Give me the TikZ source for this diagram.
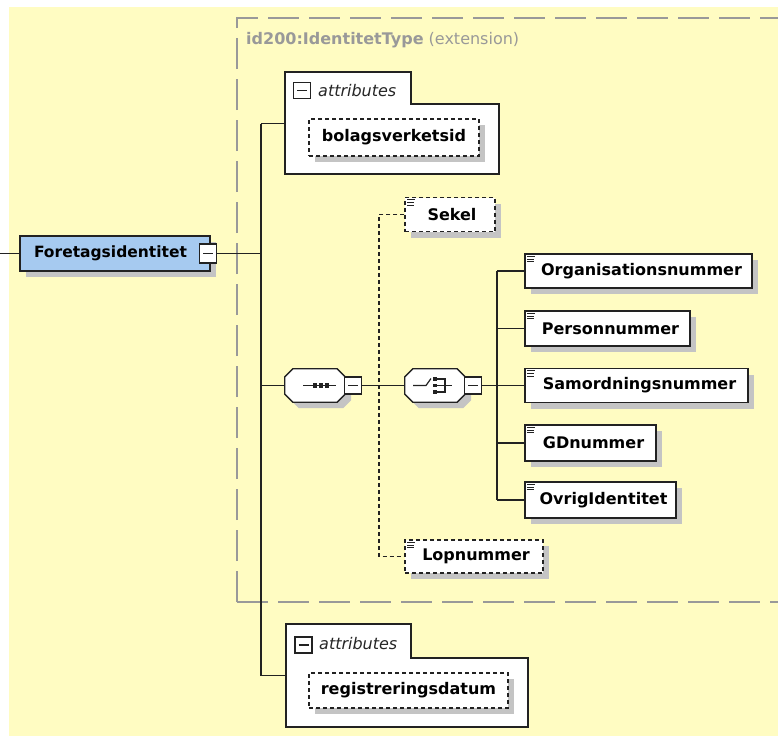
\documentclass[tikz,border=0pt]{standalone}
\usepackage{fontspec}
\setmainfont{DejaVu Sans}
\usetikzlibrary{shadows}
\definecolor{bgyellow}{HTML}{FFFCC2}
\definecolor{nodeblue}{HTML}{A6CAF0}
\definecolor{shadowgray}{HTML}{C4C4C4}
\definecolor{framegray}{HTML}{999999}
\definecolor{linecol}{HTML}{222222}
\newcommand\txticon[1]{%
  \draw[line width=0.9pt, linecol] ([xshift=3pt,yshift=-3pt]#1.north west) -- ++(8,0)
    ([xshift=3pt,yshift=-5.7pt]#1.north west) -- ++(7,0)
    ([xshift=3pt,yshift=-8.4pt]#1.north west) -- ++(7,0);}
\newcommand\octaoutline[1]{%
  \draw[shad, draw=linecol, fill=white, line width=1.3pt]
    ([xshift=8pt]#1.north west) -- ([xshift=-8pt]#1.north east) -- ([yshift=-8pt]#1.north east)
    -- ([yshift=8pt]#1.south east) -- ([xshift=-8pt]#1.south east) -- ([xshift=8pt]#1.south west)
    -- ([yshift=8pt]#1.south west) -- ([yshift=-8pt]#1.north west) -- cycle;}
\begin{document}
\begin{tikzpicture}[x=1pt,y=-1pt,
  conn/.style={draw=linecol, line width=1.5pt},
  dconn/.style={draw=linecol, line width=1.3pt, dash pattern=on 4pt off 3pt},
  shad/.style={drop shadow={shadow xshift=6pt, shadow yshift=-6pt, opacity=1, fill=shadowgray}},
  elem/.style={shad, draw=linecol, fill=white, line width=1.4pt, minimum height=34pt,
    inner sep=0pt, font=\bfseries\fontsize{16}{19}\selectfont, text=black},
  optelem/.style={elem, dash pattern=on 4pt off 3pt},
  minusbox/.style={draw=linecol, fill=white, line width=1.2pt, minimum width=17pt,
    minimum height=17pt, inner sep=0pt,
    path picture={\draw[line width=1.2pt, linecol]
      ([xshift=-5pt]path picture bounding box.center) -- ([xshift=5pt]path picture bounding box.center);}},
  compositor/.style={draw=none, minimum width=60pt, minimum height=33pt, inner sep=0pt},
  attrbox/.style={draw=linecol, fill=white, line width=1.4pt},
  attrlabel/.style={font=\itshape\fontsize{16}{19}\selectfont, text=black!85, inner sep=0pt}
]
\useasboundingbox (0,0) rectangle (778,736);
\fill[bgyellow] (9,7) rectangle (778,736);

% extension frame
\draw[framegray, line width=1.6pt, dash pattern=on 31pt off 10pt] (237,602) -- (237,18) -- (800,18);
\draw[framegray, line width=1.6pt, dash pattern=on 31pt off 10pt] (237,602) -- (800,602);
\node[anchor=west, inner sep=0pt, text=framegray, font=\fontsize{16}{19}\selectfont] (hdr) at (246,40)
  {\textbf{id200:IdentitetType} (extension)};

% root element
\node[elem, fill=nodeblue, minimum width=190pt, minimum height=35pt, text width=186pt, align=left,
  font=\bfseries\fontsize{15.5}{19}\selectfont] (fore) at (115,253.5)
  {\hspace*{12pt}Foretagsidentitet};
\node[minusbox, minimum height=19pt] (foreM) at (208,253.5) {};
\coordinate (lstub) at (0,253.5);
\draw[conn] (lstub) -- (fore.west);

% trunk
\coordinate (tTop) at (261,123.5);
\coordinate (tBot) at (261,675.5);
\draw[conn] (tTop) -- (tBot);
\draw[conn] (foreM.east) -- (foreM.east -| tTop);

% attributes 1
\draw[attrbox] (285,72) -- (411,72) -- (411,104) -- (499,104) -- (499,174) -- (285,174) -- cycle;
\coordinate (a1) at (285,123.5);
\draw[conn] (tTop) -- (a1);
\node[minusbox, minimum height=16pt] (a1m) at (302,90.5) {};
\node[attrlabel, anchor=west] (a1t) at (318,91) {attributes};
\node[optelem, minimum width=170pt, minimum height=37pt] (bolag) at (394,137.5) {bolagsverketsid};

% sequence
\node[compositor] (seq) at (315,385.5) {};
\octaoutline{seq}
\node[minusbox] (seqM) at (353,385.5) {};
\draw[conn] (seq.west -| tTop) -- (seq.west);
\draw[line width=1.2pt, linecol] ([xshift=-12pt]seq.center) -- ([xshift=21pt]seq.center);
\foreach \dx in {0,6,12}
  \fill[linecol] ([xshift=\dx pt]seq.center) ++(-2.2,-2.2) rectangle ++(4.4,4.4);

% choice
\node[compositor] (cho) at (435,385.5) {};
\octaoutline{cho}
\node[minusbox] (choM) at (473,385.5) {};
\draw[conn] (seqM.east) -- (cho.west);
\begin{scope}[shift={(cho.center)}]
  \draw[line width=1.2pt, linecol] (-22,0) -- (-9,0) -- (-4,-7);
  \foreach \dy in {-6.5,0,6.5}
    \fill[linecol] (-1.9,\dy-1.9) rectangle (1.9,\dy+1.9);
  \draw[line width=1.2pt, linecol] (2,-6.5) -- (10,-6.5) -- (10,6.5) -- (2,6.5)
    (2,0) -- (17,0);
\end{scope}

% optional Sekel / Lopnummer
\node[optelem, minimum width=90pt] (sek) at (450,214.5) {\hspace*{4pt}Sekel};
\node[optelem, minimum width=138pt, minimum height=33pt] (lop) at (474,556.5) {\hspace*{4pt}Lopnummer};
\txticon{sek}
\txticon{lop}
\coordinate (dv) at (379,385.5);
\draw[dconn] (sek.west) -- (sek.west -| dv) -- (lop.west -| dv) -- (lop.west);

% choice children
\node[elem, minimum width=227pt] (org) at (638.5,271) {\hspace*{6pt}Organisationsnummer};
\node[elem, minimum width=165pt, minimum height=35pt] (pers) at (607.5,328.5) {\hspace*{6pt}Personnummer};
\node[elem, minimum width=223pt] (sam) at (636.5,385.5) {\hspace*{6pt}Samordningsnummer};
\node[elem, minimum width=131pt, minimum height=36pt] (gd) at (590.5,443) {\hspace*{6pt}GDnummer};
\node[elem, minimum width=151pt, minimum height=36pt] (ovr) at (600.5,500) {\hspace*{6pt}OvrigIdentitet};
\foreach \n in {org,pers,sam,gd,ovr} \txticon{\n}
\coordinate (bus) at (497,385.5);
\draw[conn] (choM.east) -- (bus);
\draw[conn] (org.west -| bus) -- (ovr.west -| bus);
\foreach \n in {org,pers,sam,gd,ovr} \draw[conn] (\n.west -| bus) -- (\n.west);

% attributes 2
\draw[attrbox] (286,624) -- (411,624) -- (411,658) -- (528,658) -- (528,727) -- (286,727) -- cycle;
\coordinate (a2) at (286,675.5);
\draw[conn] (tBot) -- (a2);
\node[minusbox, minimum height=16pt] (a2m) at (303.5,645) {};
\node[attrlabel, anchor=west] (a2t) at (319,644) {attributes};
\node[optelem, minimum width=199pt, minimum height=35pt] (reg) at (408.5,690.5) {registreringsdatum};
\end{tikzpicture}
\end{document}
